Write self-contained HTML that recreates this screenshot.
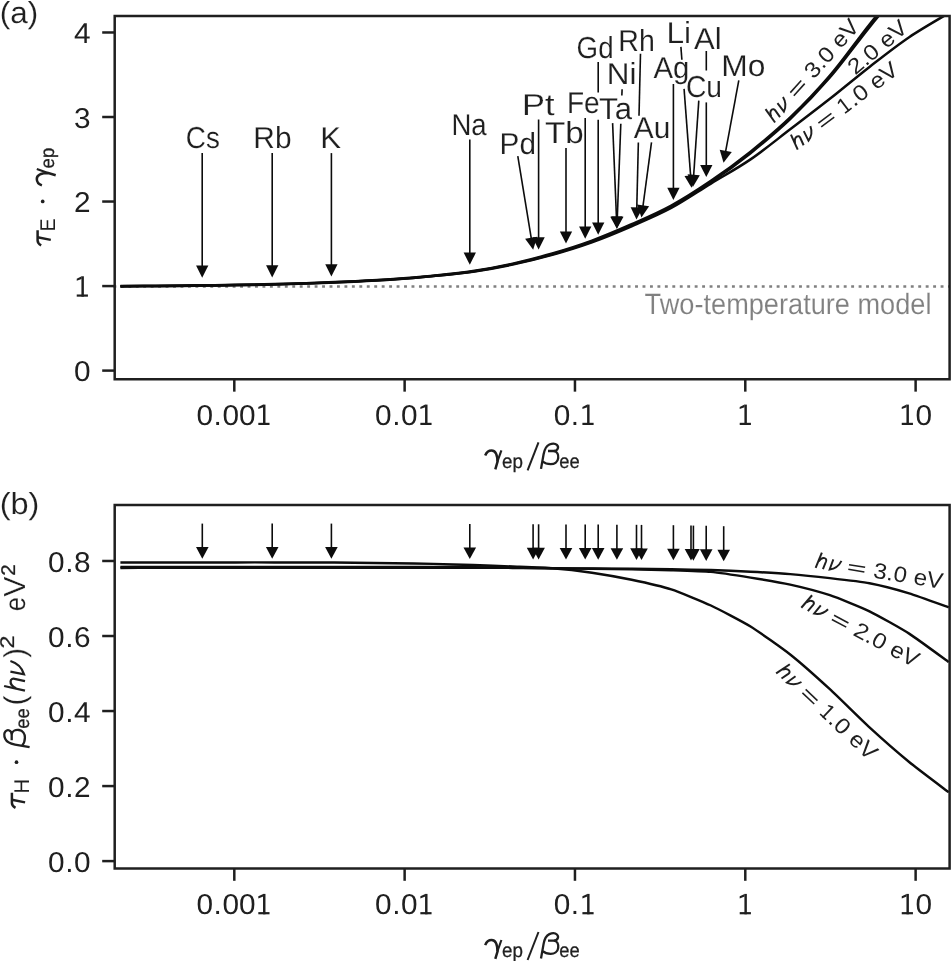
<!DOCTYPE html>
<html><head><meta charset="utf-8"><title>figure</title>
<style>html,body{margin:0;padding:0;background:#fff;overflow:hidden;}svg{display:block;font-family:"Liberation Sans",sans-serif;will-change:transform;opacity:0.999;}text{text-rendering:geometricPrecision;}</style>
</head><body>
<svg width="951" height="961" viewBox="0 0 951 961">
<rect width="951" height="961" fill="#fff"/>
<defs><clipPath id="ca"><rect x="114.7" y="16.0" width="834.9" height="363.25"/></clipPath><clipPath id="cb"><rect x="114.7" y="505.0" width="834.9" height="363.5"/></clipPath></defs>
<line x1="113.43" y1="286.45" x2="949.6" y2="286.45" stroke="#808080" stroke-width="2.5" stroke-dasharray="2.9 4.552"/>
<path d="M120.40,286.50 C126.30,286.46 143.29,286.35 155.80,286.24 C168.31,286.13 182.23,285.99 195.45,285.84 C208.67,285.68 221.88,285.55 235.10,285.33 C248.32,285.11 261.53,284.86 274.75,284.53 C287.97,284.19 301.18,283.79 314.40,283.32 C327.62,282.85 340.83,282.35 354.05,281.71 C367.27,281.08 380.48,280.44 393.70,279.51 C406.92,278.57 420.13,277.40 433.35,276.10 C446.57,274.80 459.78,273.63 473.00,271.71 C486.22,269.79 499.43,267.40 512.65,264.59 C525.87,261.79 539.08,258.58 552.30,254.88 C565.52,251.17 578.73,247.12 591.95,242.36 C605.17,237.61 618.38,232.06 631.60,226.34 C644.82,220.62 658.03,215.14 671.25,208.02 C684.47,200.89 697.68,191.70 710.90,183.60 C724.12,175.50 737.33,168.45 750.55,159.40 C763.77,150.35 776.98,139.40 790.20,129.30 C803.42,119.20 816.63,109.20 829.85,98.80 C843.07,88.40 856.28,77.17 869.50,66.90 C882.72,56.63 895.93,46.17 909.15,37.20 C922.37,28.23 942.19,17.12 948.80,13.10" fill="none" stroke="#0c0c0c" stroke-width="2.5" stroke-linejoin="round" clip-path="url(#ca)"/>
<path d="M120.40,286.20 C126.30,286.17 143.29,286.10 155.80,286.00 C168.31,285.90 182.23,285.75 195.45,285.60 C208.67,285.45 221.88,285.32 235.10,285.10 C248.32,284.88 261.53,284.63 274.75,284.30 C287.97,283.97 301.18,283.57 314.40,283.10 C327.62,282.63 340.83,282.13 354.05,281.50 C367.27,280.87 380.48,280.23 393.70,279.30 C406.92,278.37 420.13,277.22 433.35,275.90 C446.57,274.58 459.78,273.37 473.00,271.40 C486.22,269.43 499.43,266.97 512.65,264.10 C525.87,261.23 539.08,257.97 552.30,254.20 C565.52,250.43 578.73,246.32 591.95,241.50 C605.17,236.68 618.38,231.08 631.60,225.30 C644.82,219.52 658.03,213.98 671.25,206.80 C684.47,199.62 697.68,191.14 710.90,182.20 C724.12,173.26 737.33,163.67 750.55,153.15 C763.77,142.63 776.98,131.70 790.20,119.10 C803.42,106.50 816.63,92.88 829.85,77.55 C843.07,62.22 856.28,43.48 869.50,27.10 C882.72,10.73 902.54,-12.73 909.15,-20.70" fill="none" stroke="#0c0c0c" stroke-width="2.5" stroke-linejoin="round" clip-path="url(#ca)"/>
<path d="M120.40,285.90 C126.30,285.88 143.29,285.85 155.80,285.76 C168.31,285.67 182.23,285.51 195.45,285.36 C208.67,285.22 221.88,285.08 235.10,284.87 C248.32,284.65 261.53,284.41 274.75,284.07 C287.97,283.74 301.18,283.35 314.40,282.88 C327.62,282.42 340.83,281.92 354.05,281.29 C367.27,280.65 380.48,280.02 393.70,279.09 C406.92,278.16 420.13,277.03 433.35,275.70 C446.57,274.36 459.78,273.11 473.00,271.09 C486.22,269.08 499.43,266.54 512.65,263.61 C525.87,260.68 539.08,257.35 552.30,253.52 C565.52,249.69 578.73,245.51 591.95,240.64 C605.17,235.76 618.38,230.10 631.60,224.26 C644.82,218.42 658.03,212.81 671.25,205.58 C684.47,198.35 697.68,189.86 710.90,180.87 C724.12,171.88 737.33,162.21 750.55,151.65 C763.77,141.09 776.98,130.17 790.20,117.50 C803.42,104.83 816.63,91.15 829.85,75.65 C843.07,60.15 856.28,41.16 869.50,24.50 C882.72,7.84 902.54,-16.17 909.15,-24.30" fill="none" stroke="#0c0c0c" stroke-width="2.5" stroke-linejoin="round" clip-path="url(#ca)"/>
<line x1="202.20" y1="153.10" x2="202.20" y2="270.48" stroke="#0c0c0c" stroke-width="1.6"/>
<polygon points="202.20,277.80 196.05,265.60 208.35,265.60" fill="#0c0c0c"/>
<line x1="272.20" y1="153.10" x2="272.20" y2="270.08" stroke="#0c0c0c" stroke-width="1.6"/>
<polygon points="272.20,277.40 266.05,265.20 278.35,265.20" fill="#0c0c0c"/>
<line x1="331.40" y1="153.10" x2="331.40" y2="269.18" stroke="#0c0c0c" stroke-width="1.6"/>
<polygon points="331.40,276.50 325.25,264.30 337.55,264.30" fill="#0c0c0c"/>
<line x1="469.80" y1="139.50" x2="469.80" y2="257.48" stroke="#0c0c0c" stroke-width="1.6"/>
<polygon points="469.80,264.80 463.65,252.60 475.95,252.60" fill="#0c0c0c"/>
<line x1="517.80" y1="156.10" x2="531.98" y2="242.57" stroke="#0c0c0c" stroke-width="1.6"/>
<polygon points="533.16,249.79 525.12,238.75 537.26,236.76" fill="#0c0c0c"/>
<line x1="538.60" y1="119.50" x2="538.60" y2="242.18" stroke="#0c0c0c" stroke-width="1.6"/>
<polygon points="538.60,249.50 532.45,237.30 544.75,237.30" fill="#0c0c0c"/>
<line x1="566.00" y1="147.90" x2="566.00" y2="236.28" stroke="#0c0c0c" stroke-width="1.6"/>
<polygon points="566.00,243.60 559.85,231.40 572.15,231.40" fill="#0c0c0c"/>
<line x1="585.20" y1="117.90" x2="585.20" y2="231.38" stroke="#0c0c0c" stroke-width="1.6"/>
<polygon points="585.20,238.70 579.05,226.50 591.35,226.50" fill="#0c0c0c"/>
<line x1="598.20" y1="62.10" x2="598.20" y2="92.50" stroke="#0c0c0c" stroke-width="1.6"/>
<line x1="598.20" y1="119.80" x2="598.20" y2="227.38" stroke="#0c0c0c" stroke-width="1.6"/>
<polygon points="598.20,234.70 592.05,222.50 604.35,222.50" fill="#0c0c0c"/>
<line x1="622.10" y1="89.20" x2="621.86" y2="95.50" stroke="#0c0c0c" stroke-width="1.6"/>
<line x1="620.81" y1="123.80" x2="617.16" y2="221.38" stroke="#0c0c0c" stroke-width="1.6"/>
<polygon points="616.89,228.70 611.20,216.28 623.49,216.74" fill="#0c0c0c"/>
<line x1="612.60" y1="123.10" x2="616.62" y2="221.39" stroke="#0c0c0c" stroke-width="1.6"/>
<polygon points="616.92,228.70 610.27,216.76 622.56,216.26" fill="#0c0c0c"/>
<line x1="640.50" y1="53.80" x2="639.00" y2="115.80" stroke="#0c0c0c" stroke-width="1.6"/>
<line x1="638.36" y1="142.40" x2="636.67" y2="212.28" stroke="#0c0c0c" stroke-width="1.6"/>
<polygon points="636.49,219.60 630.64,207.25 642.93,207.55" fill="#0c0c0c"/>
<line x1="651.50" y1="142.40" x2="642.42" y2="210.24" stroke="#0c0c0c" stroke-width="1.6"/>
<polygon points="641.45,217.50 636.97,204.59 649.16,206.22" fill="#0c0c0c"/>
<line x1="673.40" y1="84.00" x2="673.40" y2="192.68" stroke="#0c0c0c" stroke-width="1.6"/>
<polygon points="673.40,200.00 667.25,187.80 679.55,187.80" fill="#0c0c0c"/>
<line x1="680.90" y1="46.90" x2="681.87" y2="59.70" stroke="#0c0c0c" stroke-width="1.6"/>
<line x1="684.07" y1="88.90" x2="690.98" y2="180.40" stroke="#0c0c0c" stroke-width="1.6"/>
<polygon points="691.53,187.70 684.48,176.00 696.74,175.07" fill="#0c0c0c"/>
<line x1="698.80" y1="100.60" x2="693.37" y2="179.60" stroke="#0c0c0c" stroke-width="1.6"/>
<polygon points="692.87,186.90 687.57,174.31 699.84,175.15" fill="#0c0c0c"/>
<line x1="706.30" y1="51.00" x2="706.30" y2="70.50" stroke="#0c0c0c" stroke-width="1.6"/>
<line x1="706.30" y1="102.40" x2="706.30" y2="169.78" stroke="#0c0c0c" stroke-width="1.6"/>
<polygon points="706.30,177.10 700.15,164.90 712.45,164.90" fill="#0c0c0c"/>
<line x1="738.80" y1="80.30" x2="724.86" y2="155.60" stroke="#0c0c0c" stroke-width="1.6"/>
<polygon points="723.53,162.79 719.70,149.68 731.80,151.92" fill="#0c0c0c"/>
<text transform="translate(185.81,148.00) scale(0.9180,1)" font-family='"Liberation Sans", sans-serif' font-size="30.3" fill="#1f1f1f" stroke="#fff" stroke-width="0.15">Cs</text>
<text transform="translate(253.35,148.00) scale(0.9858,1)" font-family='"Liberation Sans", sans-serif' font-size="30.3" fill="#1f1f1f" stroke="#fff" stroke-width="0.15">Rb</text>
<text transform="translate(320.34,147.80) scale(1.0292,1)" font-family='"Liberation Sans", sans-serif' font-size="30.3" fill="#1f1f1f" stroke="#fff" stroke-width="0.15">K</text>
<text transform="translate(451.44,135.10) scale(0.9099,1)" font-family='"Liberation Sans", sans-serif' font-size="30.3" fill="#1f1f1f" stroke="#fff" stroke-width="0.15">Na</text>
<text transform="translate(499.56,153.90) scale(0.9806,1)" font-family='"Liberation Sans", sans-serif' font-size="30.3" fill="#1f1f1f" stroke="#fff" stroke-width="0.15">Pd</text>
<text transform="translate(521.98,115.30) scale(1.1335,1)" font-family='"Liberation Sans", sans-serif' font-size="30.3" fill="#1f1f1f" stroke="#fff" stroke-width="0.15">Pt</text>
<text transform="translate(545.07,143.10) scale(1.0941,1)" font-family='"Liberation Sans", sans-serif' font-size="30.3" fill="#1f1f1f" stroke="#fff" stroke-width="0.15">Tb</text>
<text transform="translate(566.90,113.30) scale(0.9257,1)" font-family='"Liberation Sans", sans-serif' font-size="30.3" fill="#1f1f1f" stroke="#fff" stroke-width="0.15">Fe</text>
<text transform="translate(599.12,119.30) scale(1.0268,1)" font-family='"Liberation Sans", sans-serif' font-size="30.3" fill="#1f1f1f" stroke="#fff" stroke-width="0.15">Ta</text>
<text transform="translate(576.61,57.70) scale(0.9144,1)" font-family='"Liberation Sans", sans-serif' font-size="30.3" fill="#1f1f1f" stroke="#fff" stroke-width="0.15">Gd</text>
<text transform="translate(618.36,50.60) scale(0.9417,1)" font-family='"Liberation Sans", sans-serif' font-size="30.3" fill="#1f1f1f" stroke="#fff" stroke-width="0.15">Rh</text>
<text transform="translate(666.51,43.20) scale(1.0441,1)" font-family='"Liberation Sans", sans-serif' font-size="30.3" fill="#1f1f1f" stroke="#fff" stroke-width="0.15">Li</text>
<text transform="translate(606.72,83.70) scale(1.0378,1)" font-family='"Liberation Sans", sans-serif' font-size="30.3" fill="#1f1f1f" stroke="#fff" stroke-width="0.15">Ni</text>
<text transform="translate(653.54,77.80) scale(0.9670,1)" font-family='"Liberation Sans", sans-serif' font-size="30.3" fill="#1f1f1f" stroke="#fff" stroke-width="0.15">Ag</text>
<text transform="translate(693.94,49.10) scale(1.0251,1)" font-family='"Liberation Sans", sans-serif' font-size="30.3" fill="#1f1f1f" stroke="#fff" stroke-width="0.15">Al</text>
<text transform="translate(721.30,75.90) scale(1.0480,1)" font-family='"Liberation Sans", sans-serif' font-size="30.3" fill="#1f1f1f" stroke="#fff" stroke-width="0.15">Mo</text>
<text transform="translate(685.99,96.70) scale(0.9316,1)" font-family='"Liberation Sans", sans-serif' font-size="30.3" fill="#1f1f1f" stroke="#fff" stroke-width="0.15">Cu</text>
<text transform="translate(633.74,138.20) scale(0.9858,1)" font-family='"Liberation Sans", sans-serif' font-size="30.3" fill="#1f1f1f" stroke="#fff" stroke-width="0.15">Au</text>
<text transform="translate(644.60,313.80) scale(0.9209,1)" font-family='"Liberation Sans", sans-serif' font-size="29.5" fill="#808080" stroke="#fff" stroke-width="0.15">Two-temperature model</text>
<g transform="translate(774.30,123.40) rotate(-48)">
<g transform="translate(0.00,0.00) scale(0.7700)" fill="none" stroke="#1f1f1f" stroke-linejoin="miter" stroke-miterlimit="3">
<path d="M1.5,0.0 L6.2,-20.9" stroke-width="2.58"/>
<path d="M4.0,-9.0 C5.8,-12.8 8.6,-14.6 10.8,-14.4 C13.0,-14.2 13.8,-12.5 13.4,-10.4 L11.1,0.0" stroke-width="2.58"/>
</g>
<g transform="translate(13.60,0.00) scale(0.7700)" fill="none" stroke="#1f1f1f" stroke-linejoin="miter" stroke-miterlimit="3">
<path d="M4.7,-14.6 L2.1,-1.0 C7.6,-2.7 13.0,-6.6 15.4,-14.6" stroke-width="2.52"/>
</g>
<line x1="33.60" y1="-8.70" x2="49.90" y2="-8.70" stroke="#1f1f1f" stroke-width="1.55"/>
<line x1="33.60" y1="-4.00" x2="49.90" y2="-4.00" stroke="#1f1f1f" stroke-width="1.55"/>
<text transform="translate(58.88,0.00) scale(1.0966,1)" font-family='"Liberation Sans", sans-serif' font-size="22.0" fill="#1f1f1f">3.0</text>
<text transform="translate(99.49,0.00) scale(1.0686,1)" font-family='"Liberation Sans", sans-serif' font-size="22.5" fill="#1f1f1f">eV</text>
</g>
<g transform="translate(855.60,75.20) rotate(-40)">
<text transform="translate(-0.42,0.00) scale(1.1067,1)" font-family='"Liberation Sans", sans-serif' font-size="22.0" fill="#1f1f1f">2.0</text>
<text transform="translate(40.49,0.00) scale(1.0686,1)" font-family='"Liberation Sans", sans-serif' font-size="22.5" fill="#1f1f1f">eV</text>
</g>
<g transform="translate(796.80,150.40) rotate(-37)">
<g transform="translate(0.00,0.00) scale(0.7700)" fill="none" stroke="#1f1f1f" stroke-linejoin="miter" stroke-miterlimit="3">
<path d="M1.5,0.0 L6.2,-20.9" stroke-width="2.58"/>
<path d="M4.0,-9.0 C5.8,-12.8 8.6,-14.6 10.8,-14.4 C13.0,-14.2 13.8,-12.5 13.4,-10.4 L11.1,0.0" stroke-width="2.58"/>
</g>
<g transform="translate(13.60,0.00) scale(0.7700)" fill="none" stroke="#1f1f1f" stroke-linejoin="miter" stroke-miterlimit="3">
<path d="M4.7,-14.6 L2.1,-1.0 C7.6,-2.7 13.0,-6.6 15.4,-14.6" stroke-width="2.52"/>
</g>
<line x1="33.60" y1="-8.70" x2="49.90" y2="-8.70" stroke="#1f1f1f" stroke-width="1.55"/>
<line x1="33.60" y1="-4.00" x2="49.90" y2="-4.00" stroke="#1f1f1f" stroke-width="1.55"/>
<g transform="translate(61.00,0.00) scale(0.7350)" fill="#1f1f1f"><rect x="0" y="-2.2" width="11.2" height="2.2"/><rect x="4.7" y="-20.4" width="2.45" height="20.4"/><polygon points="4.9,-20.4 4.9,-17.7 0,-15.9 0,-18.0"/></g>
<text transform="translate(71.74,0.00) scale(1.1283,1)" font-family='"Liberation Sans", sans-serif' font-size="22.0" fill="#1f1f1f">.0</text>
<text transform="translate(99.49,0.00) scale(1.0686,1)" font-family='"Liberation Sans", sans-serif' font-size="22.5" fill="#1f1f1f">eV</text>
</g>
<rect x="114.7" y="16.0" width="834.9" height="363.25" fill="none" stroke="#1f1f1f" stroke-width="2.5"/>
<line x1="102.20" y1="370.60" x2="114.70" y2="370.60" stroke="#1f1f1f" stroke-width="2.5"/>
<text transform="translate(74.03,381.20) scale(1.0417,1)" font-size="28.6" fill="#1f1f1f">0</text>
<line x1="102.20" y1="286.07" x2="114.70" y2="286.07" stroke="#1f1f1f" stroke-width="2.5"/>
<g transform="translate(76.73,296.67) scale(1.0000)" fill="#1f1f1f"><rect x="0" y="-2.2" width="11.2" height="2.2"/><rect x="4.7" y="-20.4" width="2.45" height="20.4"/><polygon points="4.9,-20.4 4.9,-17.7 0,-15.9 0,-18.0"/></g>
<line x1="102.20" y1="201.54" x2="114.70" y2="201.54" stroke="#1f1f1f" stroke-width="2.5"/>
<text transform="translate(74.03,212.14) scale(1.0417,1)" font-size="28.6" fill="#1f1f1f">2</text>
<line x1="102.20" y1="117.01" x2="114.70" y2="117.01" stroke="#1f1f1f" stroke-width="2.5"/>
<text transform="translate(74.03,127.61) scale(1.0417,1)" font-size="28.6" fill="#1f1f1f">3</text>
<line x1="102.20" y1="32.48" x2="114.70" y2="32.48" stroke="#1f1f1f" stroke-width="2.5"/>
<text transform="translate(74.03,43.08) scale(1.0417,1)" font-size="28.6" fill="#1f1f1f">4</text>
<line x1="234.30" y1="379.25" x2="234.30" y2="391.65" stroke="#1f1f1f" stroke-width="2.5"/>
<text transform="translate(196.41,425.00) scale(1.0417,1)" font-size="28.6" fill="#1f1f1f">0</text>
<text transform="translate(213.59,425.00) scale(1.0417,1)" font-size="28.6" fill="#1f1f1f">.</text>
<text transform="translate(222.48,425.00) scale(1.0417,1)" font-size="28.6" fill="#1f1f1f">0</text>
<text transform="translate(239.05,425.00) scale(1.0417,1)" font-size="28.6" fill="#1f1f1f">0</text>
<g transform="translate(258.32,425.00) scale(1.0000)" fill="#1f1f1f"><rect x="0" y="-2.2" width="11.2" height="2.2"/><rect x="4.7" y="-20.4" width="2.45" height="20.4"/><polygon points="4.9,-20.4 4.9,-17.7 0,-15.9 0,-18.0"/></g>
<line x1="404.63" y1="379.25" x2="404.63" y2="391.65" stroke="#1f1f1f" stroke-width="2.5"/>
<text transform="translate(375.02,425.00) scale(1.0417,1)" font-size="28.6" fill="#1f1f1f">0</text>
<text transform="translate(392.21,425.00) scale(1.0417,1)" font-size="28.6" fill="#1f1f1f">.</text>
<text transform="translate(401.09,425.00) scale(1.0417,1)" font-size="28.6" fill="#1f1f1f">0</text>
<g transform="translate(420.36,425.00) scale(1.0000)" fill="#1f1f1f"><rect x="0" y="-2.2" width="11.2" height="2.2"/><rect x="4.7" y="-20.4" width="2.45" height="20.4"/><polygon points="4.9,-20.4 4.9,-17.7 0,-15.9 0,-18.0"/></g>
<line x1="574.96" y1="379.25" x2="574.96" y2="391.65" stroke="#1f1f1f" stroke-width="2.5"/>
<text transform="translate(553.64,425.00) scale(1.0417,1)" font-size="28.6" fill="#1f1f1f">0</text>
<text transform="translate(570.82,425.00) scale(1.0417,1)" font-size="28.6" fill="#1f1f1f">.</text>
<g transform="translate(582.41,425.00) scale(1.0000)" fill="#1f1f1f"><rect x="0" y="-2.2" width="11.2" height="2.2"/><rect x="4.7" y="-20.4" width="2.45" height="20.4"/><polygon points="4.9,-20.4 4.9,-17.7 0,-15.9 0,-18.0"/></g>
<line x1="745.29" y1="379.25" x2="745.29" y2="391.65" stroke="#1f1f1f" stroke-width="2.5"/>
<g transform="translate(739.71,425.00) scale(1.0000)" fill="#1f1f1f"><rect x="0" y="-2.2" width="11.2" height="2.2"/><rect x="4.7" y="-20.4" width="2.45" height="20.4"/><polygon points="4.9,-20.4 4.9,-17.7 0,-15.9 0,-18.0"/></g>
<line x1="915.62" y1="379.25" x2="915.62" y2="391.65" stroke="#1f1f1f" stroke-width="2.5"/>
<g transform="translate(901.75,425.00) scale(1.0000)" fill="#1f1f1f"><rect x="0" y="-2.2" width="11.2" height="2.2"/><rect x="4.7" y="-20.4" width="2.45" height="20.4"/><polygon points="4.9,-20.4 4.9,-17.7 0,-15.9 0,-18.0"/></g>
<text transform="translate(915.62,425.00) scale(1.0417,1)" font-size="28.6" fill="#1f1f1f">0</text>
<path d="M120.40,562.40 C123.64,562.40 148.92,562.40 155.80,562.40 C162.68,562.40 188.18,562.40 195.45,562.40 C202.72,562.40 227.83,562.40 235.10,562.40 C242.37,562.40 267.48,562.39 274.75,562.40 C282.02,562.41 307.13,562.47 314.40,562.50 C321.67,562.53 346.78,562.64 354.05,562.70 C361.32,562.76 386.43,563.09 393.70,563.20 C400.97,563.31 426.08,563.74 433.35,563.90 C440.62,564.06 465.73,564.76 473.00,565.00 C480.27,565.24 505.38,566.21 512.65,566.50 C519.92,566.79 545.03,567.63 552.30,568.20 C559.57,568.77 584.68,571.64 591.95,572.70 C599.22,573.76 624.33,578.27 631.60,579.80 C638.87,581.33 663.98,587.04 671.25,589.40 C678.52,591.76 703.63,602.10 710.90,605.50 C718.17,608.90 743.28,622.01 750.55,626.50 C757.82,630.99 782.93,648.75 790.20,654.50 C797.47,660.25 822.58,682.52 829.85,689.20 C837.12,695.88 862.23,720.73 869.50,727.40 C876.77,734.07 901.88,756.05 909.15,762.00 C916.42,767.95 945.17,789.52 948.80,792.30" fill="none" stroke="#0c0c0c" stroke-width="2.45" stroke-linejoin="round" clip-path="url(#cb)"/>
<path d="M120.40,567.90 C123.64,567.89 148.92,567.81 155.80,567.80 C162.68,567.79 188.18,567.80 195.45,567.80 C202.72,567.80 227.83,567.80 235.10,567.80 C242.37,567.80 267.48,567.80 274.75,567.80 C282.02,567.80 307.13,567.80 314.40,567.80 C321.67,567.80 346.78,567.80 354.05,567.80 C361.32,567.80 386.43,567.80 393.70,567.80 C400.97,567.80 426.08,567.80 433.35,567.80 C440.62,567.80 465.73,567.79 473.00,567.80 C480.27,567.81 505.38,567.85 512.65,567.90 C519.92,567.95 545.03,568.23 552.30,568.30 C559.57,568.37 584.68,568.61 591.95,568.70 C599.22,568.79 624.33,569.16 631.60,569.30 C638.87,569.44 663.98,569.96 671.25,570.20 C678.52,570.44 703.63,571.22 710.90,571.90 C718.17,572.58 743.28,576.44 750.55,577.60 C757.82,578.76 782.93,582.99 790.20,584.60 C797.47,586.21 822.58,592.75 829.85,595.20 C837.12,597.65 862.23,607.78 869.50,611.30 C876.77,614.82 901.88,628.94 909.15,633.60 C916.42,638.26 945.17,659.49 948.80,662.10" fill="none" stroke="#0c0c0c" stroke-width="2.45" stroke-linejoin="round" clip-path="url(#cb)"/>
<path d="M120.40,566.90 C123.64,566.90 148.92,566.90 155.80,566.90 C162.68,566.90 188.18,566.90 195.45,566.90 C202.72,566.90 227.83,566.90 235.10,566.90 C242.37,566.90 267.48,566.90 274.75,566.90 C282.02,566.90 307.13,566.90 314.40,566.90 C321.67,566.90 346.78,566.90 354.05,566.90 C361.32,566.90 386.43,566.89 393.70,566.90 C400.97,566.91 426.08,566.97 433.35,567.00 C440.62,567.03 465.73,567.15 473.00,567.20 C480.27,567.25 505.38,567.51 512.65,567.60 C519.92,567.69 545.03,568.12 552.30,568.20 C559.57,568.28 584.68,568.45 591.95,568.50 C599.22,568.55 624.33,568.73 631.60,568.80 C638.87,568.87 663.98,569.19 671.25,569.30 C678.52,569.41 703.63,569.78 710.90,570.00 C718.17,570.22 743.28,571.32 750.55,571.70 C757.82,572.08 782.93,573.51 790.20,574.10 C797.47,574.69 822.58,577.27 829.85,578.10 C837.12,578.93 862.23,581.81 869.50,583.20 C876.77,584.59 901.88,591.09 909.15,593.30 C916.42,595.51 945.17,606.02 948.80,607.30" fill="none" stroke="#0c0c0c" stroke-width="2.45" stroke-linejoin="round" clip-path="url(#cb)"/>
<line x1="202.30" y1="523.60" x2="202.30" y2="551.74" stroke="#0c0c0c" stroke-width="1.6"/>
<polygon points="202.30,558.70 196.00,547.10 208.60,547.10" fill="#0c0c0c"/>
<line x1="272.20" y1="523.60" x2="272.20" y2="551.74" stroke="#0c0c0c" stroke-width="1.6"/>
<polygon points="272.20,558.70 265.90,547.10 278.50,547.10" fill="#0c0c0c"/>
<line x1="331.40" y1="523.60" x2="331.40" y2="551.74" stroke="#0c0c0c" stroke-width="1.6"/>
<polygon points="331.40,558.70 325.10,547.10 337.70,547.10" fill="#0c0c0c"/>
<line x1="469.80" y1="523.90" x2="469.80" y2="552.04" stroke="#0c0c0c" stroke-width="1.6"/>
<polygon points="469.80,559.00 463.50,547.40 476.10,547.40" fill="#0c0c0c"/>
<line x1="533.10" y1="524.30" x2="533.10" y2="552.44" stroke="#0c0c0c" stroke-width="1.6"/>
<polygon points="533.10,559.40 526.80,547.80 539.40,547.80" fill="#0c0c0c"/>
<line x1="538.60" y1="524.30" x2="538.60" y2="552.44" stroke="#0c0c0c" stroke-width="1.6"/>
<polygon points="538.60,559.40 532.30,547.80 544.90,547.80" fill="#0c0c0c"/>
<line x1="566.00" y1="524.40" x2="566.00" y2="552.54" stroke="#0c0c0c" stroke-width="1.6"/>
<polygon points="566.00,559.50 559.70,547.90 572.30,547.90" fill="#0c0c0c"/>
<line x1="585.20" y1="524.50" x2="585.20" y2="552.64" stroke="#0c0c0c" stroke-width="1.6"/>
<polygon points="585.20,559.60 578.90,548.00 591.50,548.00" fill="#0c0c0c"/>
<line x1="598.20" y1="524.60" x2="598.20" y2="552.74" stroke="#0c0c0c" stroke-width="1.6"/>
<polygon points="598.20,559.70 591.90,548.10 604.50,548.10" fill="#0c0c0c"/>
<line x1="616.90" y1="524.70" x2="616.90" y2="552.84" stroke="#0c0c0c" stroke-width="1.6"/>
<polygon points="616.90,559.80 610.60,548.20 623.20,548.20" fill="#0c0c0c"/>
<line x1="636.50" y1="524.80" x2="636.50" y2="552.94" stroke="#0c0c0c" stroke-width="1.6"/>
<polygon points="636.50,559.90 630.20,548.30 642.80,548.30" fill="#0c0c0c"/>
<line x1="641.50" y1="524.90" x2="641.50" y2="553.04" stroke="#0c0c0c" stroke-width="1.6"/>
<polygon points="641.50,560.00 635.20,548.40 647.80,548.40" fill="#0c0c0c"/>
<line x1="673.40" y1="525.20" x2="673.40" y2="553.34" stroke="#0c0c0c" stroke-width="1.6"/>
<polygon points="673.40,560.30 667.10,548.70 679.70,548.70" fill="#0c0c0c"/>
<line x1="691.00" y1="525.50" x2="691.00" y2="553.64" stroke="#0c0c0c" stroke-width="1.6"/>
<polygon points="691.00,560.60 684.70,549.00 697.30,549.00" fill="#0c0c0c"/>
<line x1="693.40" y1="525.60" x2="693.40" y2="553.74" stroke="#0c0c0c" stroke-width="1.6"/>
<polygon points="693.40,560.70 687.10,549.10 699.70,549.10" fill="#0c0c0c"/>
<line x1="706.20" y1="525.80" x2="706.20" y2="553.94" stroke="#0c0c0c" stroke-width="1.6"/>
<polygon points="706.20,560.90 699.90,549.30 712.50,549.30" fill="#0c0c0c"/>
<line x1="723.70" y1="526.20" x2="723.70" y2="554.34" stroke="#0c0c0c" stroke-width="1.6"/>
<polygon points="723.70,561.30 717.40,549.70 730.00,549.70" fill="#0c0c0c"/>
<g transform="translate(814.50,567.70) rotate(9.5)">
<g transform="translate(0.00,0.00) scale(0.7700)" fill="none" stroke="#1f1f1f" stroke-linejoin="miter" stroke-miterlimit="3">
<path d="M1.5,0.0 L6.2,-20.9" stroke-width="2.58"/>
<path d="M4.0,-9.0 C5.8,-12.8 8.6,-14.6 10.8,-14.4 C13.0,-14.2 13.8,-12.5 13.4,-10.4 L11.1,0.0" stroke-width="2.58"/>
</g>
<g transform="translate(13.60,0.00) scale(0.7700)" fill="none" stroke="#1f1f1f" stroke-linejoin="miter" stroke-miterlimit="3">
<path d="M4.7,-14.6 L2.1,-1.0 C7.6,-2.7 13.0,-6.6 15.4,-14.6" stroke-width="2.52"/>
</g>
<line x1="33.60" y1="-8.70" x2="49.90" y2="-8.70" stroke="#1f1f1f" stroke-width="1.55"/>
<line x1="33.60" y1="-4.00" x2="49.90" y2="-4.00" stroke="#1f1f1f" stroke-width="1.55"/>
<text transform="translate(58.88,0.00) scale(1.0966,1)" font-family='"Liberation Sans", sans-serif' font-size="22.0" fill="#1f1f1f">3.0</text>
<text transform="translate(99.49,0.00) scale(1.0686,1)" font-family='"Liberation Sans", sans-serif' font-size="22.5" fill="#1f1f1f">eV</text>
</g>
<g transform="translate(800.30,607.20) rotate(28.0)">
<g transform="translate(0.00,0.00) scale(0.7700)" fill="none" stroke="#1f1f1f" stroke-linejoin="miter" stroke-miterlimit="3">
<path d="M1.5,0.0 L6.2,-20.9" stroke-width="2.58"/>
<path d="M4.0,-9.0 C5.8,-12.8 8.6,-14.6 10.8,-14.4 C13.0,-14.2 13.8,-12.5 13.4,-10.4 L11.1,0.0" stroke-width="2.58"/>
</g>
<g transform="translate(13.60,0.00) scale(0.7700)" fill="none" stroke="#1f1f1f" stroke-linejoin="miter" stroke-miterlimit="3">
<path d="M4.7,-14.6 L2.1,-1.0 C7.6,-2.7 13.0,-6.6 15.4,-14.6" stroke-width="2.52"/>
</g>
<line x1="33.60" y1="-8.70" x2="49.90" y2="-8.70" stroke="#1f1f1f" stroke-width="1.55"/>
<line x1="33.60" y1="-4.00" x2="49.90" y2="-4.00" stroke="#1f1f1f" stroke-width="1.55"/>
<text transform="translate(58.58,0.00) scale(1.1067,1)" font-family='"Liberation Sans", sans-serif' font-size="22.0" fill="#1f1f1f">2.0</text>
<text transform="translate(99.49,0.00) scale(1.0686,1)" font-family='"Liberation Sans", sans-serif' font-size="22.5" fill="#1f1f1f">eV</text>
</g>
<g transform="translate(775.30,672.60) rotate(43.5)">
<g transform="translate(0.00,0.00) scale(0.7700)" fill="none" stroke="#1f1f1f" stroke-linejoin="miter" stroke-miterlimit="3">
<path d="M1.5,0.0 L6.2,-20.9" stroke-width="2.58"/>
<path d="M4.0,-9.0 C5.8,-12.8 8.6,-14.6 10.8,-14.4 C13.0,-14.2 13.8,-12.5 13.4,-10.4 L11.1,0.0" stroke-width="2.58"/>
</g>
<g transform="translate(13.60,0.00) scale(0.7700)" fill="none" stroke="#1f1f1f" stroke-linejoin="miter" stroke-miterlimit="3">
<path d="M4.7,-14.6 L2.1,-1.0 C7.6,-2.7 13.0,-6.6 15.4,-14.6" stroke-width="2.52"/>
</g>
<line x1="33.60" y1="-8.70" x2="49.90" y2="-8.70" stroke="#1f1f1f" stroke-width="1.55"/>
<line x1="33.60" y1="-4.00" x2="49.90" y2="-4.00" stroke="#1f1f1f" stroke-width="1.55"/>
<g transform="translate(61.00,0.00) scale(0.7350)" fill="#1f1f1f"><rect x="0" y="-2.2" width="11.2" height="2.2"/><rect x="4.7" y="-20.4" width="2.45" height="20.4"/><polygon points="4.9,-20.4 4.9,-17.7 0,-15.9 0,-18.0"/></g>
<text transform="translate(71.74,0.00) scale(1.1283,1)" font-family='"Liberation Sans", sans-serif' font-size="22.0" fill="#1f1f1f">.0</text>
<text transform="translate(99.49,0.00) scale(1.0686,1)" font-family='"Liberation Sans", sans-serif' font-size="22.5" fill="#1f1f1f">eV</text>
</g>
<rect x="114.7" y="505.0" width="834.9" height="363.5" fill="none" stroke="#1f1f1f" stroke-width="2.5"/>
<line x1="102.20" y1="861.10" x2="114.70" y2="861.10" stroke="#1f1f1f" stroke-width="2.5"/>
<text transform="translate(47.96,871.70) scale(1.0417,1)" font-size="28.6" fill="#1f1f1f">0</text>
<text transform="translate(65.14,871.70) scale(1.0417,1)" font-size="28.6" fill="#1f1f1f">.</text>
<text transform="translate(74.03,871.70) scale(1.0417,1)" font-size="28.6" fill="#1f1f1f">0</text>
<line x1="102.20" y1="786.07" x2="114.70" y2="786.07" stroke="#1f1f1f" stroke-width="2.5"/>
<text transform="translate(47.96,796.67) scale(1.0417,1)" font-size="28.6" fill="#1f1f1f">0</text>
<text transform="translate(65.14,796.67) scale(1.0417,1)" font-size="28.6" fill="#1f1f1f">.</text>
<text transform="translate(74.03,796.67) scale(1.0417,1)" font-size="28.6" fill="#1f1f1f">2</text>
<line x1="102.20" y1="711.04" x2="114.70" y2="711.04" stroke="#1f1f1f" stroke-width="2.5"/>
<text transform="translate(47.96,721.64) scale(1.0417,1)" font-size="28.6" fill="#1f1f1f">0</text>
<text transform="translate(65.14,721.64) scale(1.0417,1)" font-size="28.6" fill="#1f1f1f">.</text>
<text transform="translate(74.03,721.64) scale(1.0417,1)" font-size="28.6" fill="#1f1f1f">4</text>
<line x1="102.20" y1="636.01" x2="114.70" y2="636.01" stroke="#1f1f1f" stroke-width="2.5"/>
<text transform="translate(47.96,646.61) scale(1.0417,1)" font-size="28.6" fill="#1f1f1f">0</text>
<text transform="translate(65.14,646.61) scale(1.0417,1)" font-size="28.6" fill="#1f1f1f">.</text>
<text transform="translate(74.03,646.61) scale(1.0417,1)" font-size="28.6" fill="#1f1f1f">6</text>
<line x1="102.20" y1="560.98" x2="114.70" y2="560.98" stroke="#1f1f1f" stroke-width="2.5"/>
<text transform="translate(47.96,571.58) scale(1.0417,1)" font-size="28.6" fill="#1f1f1f">0</text>
<text transform="translate(65.14,571.58) scale(1.0417,1)" font-size="28.6" fill="#1f1f1f">.</text>
<text transform="translate(74.03,571.58) scale(1.0417,1)" font-size="28.6" fill="#1f1f1f">8</text>
<line x1="234.30" y1="868.50" x2="234.30" y2="880.80" stroke="#1f1f1f" stroke-width="2.5"/>
<text transform="translate(196.41,914.30) scale(1.0417,1)" font-size="28.6" fill="#1f1f1f">0</text>
<text transform="translate(213.59,914.30) scale(1.0417,1)" font-size="28.6" fill="#1f1f1f">.</text>
<text transform="translate(222.48,914.30) scale(1.0417,1)" font-size="28.6" fill="#1f1f1f">0</text>
<text transform="translate(239.05,914.30) scale(1.0417,1)" font-size="28.6" fill="#1f1f1f">0</text>
<g transform="translate(258.32,914.30) scale(1.0000)" fill="#1f1f1f"><rect x="0" y="-2.2" width="11.2" height="2.2"/><rect x="4.7" y="-20.4" width="2.45" height="20.4"/><polygon points="4.9,-20.4 4.9,-17.7 0,-15.9 0,-18.0"/></g>
<line x1="404.63" y1="868.50" x2="404.63" y2="880.80" stroke="#1f1f1f" stroke-width="2.5"/>
<text transform="translate(375.02,914.30) scale(1.0417,1)" font-size="28.6" fill="#1f1f1f">0</text>
<text transform="translate(392.21,914.30) scale(1.0417,1)" font-size="28.6" fill="#1f1f1f">.</text>
<text transform="translate(401.09,914.30) scale(1.0417,1)" font-size="28.6" fill="#1f1f1f">0</text>
<g transform="translate(420.36,914.30) scale(1.0000)" fill="#1f1f1f"><rect x="0" y="-2.2" width="11.2" height="2.2"/><rect x="4.7" y="-20.4" width="2.45" height="20.4"/><polygon points="4.9,-20.4 4.9,-17.7 0,-15.9 0,-18.0"/></g>
<line x1="574.96" y1="868.50" x2="574.96" y2="880.80" stroke="#1f1f1f" stroke-width="2.5"/>
<text transform="translate(553.64,914.30) scale(1.0417,1)" font-size="28.6" fill="#1f1f1f">0</text>
<text transform="translate(570.82,914.30) scale(1.0417,1)" font-size="28.6" fill="#1f1f1f">.</text>
<g transform="translate(582.41,914.30) scale(1.0000)" fill="#1f1f1f"><rect x="0" y="-2.2" width="11.2" height="2.2"/><rect x="4.7" y="-20.4" width="2.45" height="20.4"/><polygon points="4.9,-20.4 4.9,-17.7 0,-15.9 0,-18.0"/></g>
<line x1="745.29" y1="868.50" x2="745.29" y2="880.80" stroke="#1f1f1f" stroke-width="2.5"/>
<g transform="translate(739.71,914.30) scale(1.0000)" fill="#1f1f1f"><rect x="0" y="-2.2" width="11.2" height="2.2"/><rect x="4.7" y="-20.4" width="2.45" height="20.4"/><polygon points="4.9,-20.4 4.9,-17.7 0,-15.9 0,-18.0"/></g>
<line x1="915.62" y1="868.50" x2="915.62" y2="880.80" stroke="#1f1f1f" stroke-width="2.5"/>
<g transform="translate(901.75,914.30) scale(1.0000)" fill="#1f1f1f"><rect x="0" y="-2.2" width="11.2" height="2.2"/><rect x="4.7" y="-20.4" width="2.45" height="20.4"/><polygon points="4.9,-20.4 4.9,-17.7 0,-15.9 0,-18.0"/></g>
<text transform="translate(915.62,914.30) scale(1.0417,1)" font-size="28.6" fill="#1f1f1f">0</text>
<text transform="translate(-0.25,22.50) scale(1.0370,1)" font-family='"Liberation Sans", sans-serif' font-size="30.3" fill="#1f1f1f" stroke="#fff" stroke-width="0.15">(a)</text>
<text transform="translate(-0.32,514.30) scale(1.0731,1)" font-family='"Liberation Sans", sans-serif' font-size="30.3" fill="#1f1f1f" stroke="#fff" stroke-width="0.15">(b)</text>
<g transform="translate(484.40,464.30) scale(1.0000)" fill="none" stroke="#1f1f1f" stroke-linejoin="miter" stroke-miterlimit="3">
<path d="M0.8,-8.8 C1.9,-11.8 4.2,-13.9 7.2,-13.9 C11.2,-13.9 13.0,-8.3 13.1,-2.4 L10.9,5.0" stroke-width="2.50"/>
<path d="M13.0,-2.6 L17.0,-13.9" stroke-width="2.10"/>
</g>
<text transform="translate(502.11,467.60) scale(0.9522,1)" font-family='"Liberation Sans", sans-serif' font-size="19.8" fill="#1f1f1f" stroke="#1f1f1f" stroke-width="0.28">ep</text>
<line x1="527.60" y1="470.40" x2="538.50" y2="442.40" stroke="#1f1f1f" stroke-width="2.0"/>
<g transform="translate(539.70,464.30) scale(1.0000)" fill="none" stroke="#1f1f1f" stroke-linejoin="miter" stroke-miterlimit="3">
<path d="M1.3,4.6 L3.9,-10.0 C4.7,-14.5 6.4,-18.3 9.7,-19.8 C12.5,-21.0 15.6,-20.9 17.2,-19.4 C19.4,-17.3 18.3,-13.6 14.2,-13.3 L8.3,-13.3" stroke-width="2.30"/>
<path d="M14.2,-13.3 C17.6,-12.8 18.9,-9.5 18.5,-6.1 C18.0,-2.0 14.5,-0.1 11.0,-0.1 C8.0,-0.1 5.0,-1.0 3.0,-2.8" stroke-width="2.30"/>
</g>
<text transform="translate(559.23,467.60) scale(0.9304,1)" font-family='"Liberation Sans", sans-serif' font-size="19.8" fill="#1f1f1f" stroke="#1f1f1f" stroke-width="0.28">ee</text>
<g transform="translate(484.40,953.90) scale(1.0000)" fill="none" stroke="#1f1f1f" stroke-linejoin="miter" stroke-miterlimit="3">
<path d="M0.8,-8.8 C1.9,-11.8 4.2,-13.9 7.2,-13.9 C11.2,-13.9 13.0,-8.3 13.1,-2.4 L10.9,5.0" stroke-width="2.50"/>
<path d="M13.0,-2.6 L17.0,-13.9" stroke-width="2.10"/>
</g>
<text transform="translate(502.11,957.20) scale(0.9522,1)" font-family='"Liberation Sans", sans-serif' font-size="19.8" fill="#1f1f1f" stroke="#1f1f1f" stroke-width="0.28">ep</text>
<line x1="527.60" y1="960.00" x2="538.50" y2="932.00" stroke="#1f1f1f" stroke-width="2.0"/>
<g transform="translate(539.70,953.90) scale(1.0000)" fill="none" stroke="#1f1f1f" stroke-linejoin="miter" stroke-miterlimit="3">
<path d="M1.3,4.6 L3.9,-10.0 C4.7,-14.5 6.4,-18.3 9.7,-19.8 C12.5,-21.0 15.6,-20.9 17.2,-19.4 C19.4,-17.3 18.3,-13.6 14.2,-13.3 L8.3,-13.3" stroke-width="2.30"/>
<path d="M14.2,-13.3 C17.6,-12.8 18.9,-9.5 18.5,-6.1 C18.0,-2.0 14.5,-0.1 11.0,-0.1 C8.0,-0.1 5.0,-1.0 3.0,-2.8" stroke-width="2.30"/>
</g>
<text transform="translate(559.23,957.20) scale(0.9304,1)" font-family='"Liberation Sans", sans-serif' font-size="19.8" fill="#1f1f1f" stroke="#1f1f1f" stroke-width="0.28">ee</text>
<g transform="translate(50.7,246.0) rotate(-90)">
<g transform="translate(0.00,0.00) scale(1.0000)" fill="none" stroke="#1f1f1f" stroke-linejoin="miter" stroke-miterlimit="3">
<path d="M15.8,-13.1 L5.5,-13.1 C3.1,-13.1 1.8,-11.6 0.7,-9.5" stroke-width="2.50"/>
<path d="M8.7,-13.1 L6.1,0.1" stroke-width="2.40"/>
</g>
<text transform="translate(14.83,4.20) scale(0.8992,1)" font-family='"Liberation Sans", sans-serif' font-size="21.3" fill="#1f1f1f">E</text>
<circle cx="44.60" cy="-8.00" r="1.85" fill="#1f1f1f"/>
<g transform="translate(59.90,0.00) scale(1.0000)" fill="none" stroke="#1f1f1f" stroke-linejoin="miter" stroke-miterlimit="3">
<path d="M0.8,-8.8 C1.9,-11.8 4.2,-13.9 7.2,-13.9 C11.2,-13.9 13.0,-8.3 13.1,-2.4 L10.9,5.0" stroke-width="2.50"/>
<path d="M13.0,-2.6 L17.0,-13.9" stroke-width="2.10"/>
</g>
<text transform="translate(77.62,3.00) scale(0.9469,1)" font-family='"Liberation Sans", sans-serif' font-size="19.5" fill="#1f1f1f" stroke="#1f1f1f" stroke-width="0.28">ep</text>
</g>
<g transform="translate(25.0,808.5) rotate(-90)">
<g transform="translate(0.00,0.00) scale(1.0000)" fill="none" stroke="#1f1f1f" stroke-linejoin="miter" stroke-miterlimit="3">
<path d="M15.8,-13.1 L5.5,-13.1 C3.1,-13.1 1.8,-11.6 0.7,-9.5" stroke-width="2.50"/>
<path d="M8.7,-13.1 L6.1,0.1" stroke-width="2.40"/>
</g>
<text transform="translate(14.94,4.10) scale(0.9490,1)" font-family='"Liberation Sans", sans-serif' font-size="21.3" fill="#1f1f1f">H</text>
<circle cx="46.30" cy="-8.50" r="1.85" fill="#1f1f1f"/>
<g transform="translate(60.00,0.00) scale(1.0000)" fill="none" stroke="#1f1f1f" stroke-linejoin="miter" stroke-miterlimit="3">
<path d="M1.3,4.6 L3.9,-10.0 C4.7,-14.5 6.4,-18.3 9.7,-19.8 C12.5,-21.0 15.6,-20.9 17.2,-19.4 C19.4,-17.3 18.3,-13.6 14.2,-13.3 L8.3,-13.3" stroke-width="2.30"/>
<path d="M14.2,-13.3 C17.6,-12.8 18.9,-9.5 18.5,-6.1 C18.0,-2.0 14.5,-0.1 11.0,-0.1 C8.0,-0.1 5.0,-1.0 3.0,-2.8" stroke-width="2.30"/>
</g>
<text transform="translate(79.73,3.70) scale(0.9397,1)" font-family='"Liberation Sans", sans-serif' font-size="19.5" fill="#1f1f1f" stroke="#1f1f1f" stroke-width="0.28">ee</text>
<text transform="translate(102.94,0.00) scale(1.0025,1)" font-family='"Liberation Sans", sans-serif' font-size="30" fill="#1f1f1f" stroke="#fff" stroke-width="0.15">(</text>
<g transform="translate(116.30,0.00) scale(1.0000)" fill="none" stroke="#1f1f1f" stroke-linejoin="miter" stroke-miterlimit="3">
<path d="M1.5,0.0 L6.2,-20.9" stroke-width="2.30"/>
<path d="M4.0,-9.0 C5.8,-12.8 8.6,-14.6 10.8,-14.4 C13.0,-14.2 13.8,-12.5 13.4,-10.4 L11.1,0.0" stroke-width="2.30"/>
</g>
<g transform="translate(132.10,0.00) scale(1.0000)" fill="none" stroke="#1f1f1f" stroke-linejoin="miter" stroke-miterlimit="3">
<path d="M4.7,-14.6 L2.1,-1.0 C7.6,-2.7 13.0,-6.6 15.4,-14.6" stroke-width="2.25"/>
</g>
<text transform="translate(150.85,0.00) scale(0.9774,1)" font-family='"Liberation Sans", sans-serif' font-size="30" fill="#1f1f1f" stroke="#fff" stroke-width="0.15">)</text>
<text transform="translate(160.04,-10.80) scale(1.1740,1)" font-family='"Liberation Sans", sans-serif' font-size="19.8" fill="#1f1f1f" stroke="#1f1f1f" stroke-width="0.28">2</text>
<text transform="translate(197.23,0.00) scale(0.8804,1)" font-family='"Liberation Sans", sans-serif' font-size="29" fill="#1f1f1f" stroke="#fff" stroke-width="0.14">e</text>
<text transform="translate(211.68,0.00) scale(0.9950,1)" font-family='"Liberation Sans", sans-serif' font-size="30.5" fill="#1f1f1f" stroke="#fff" stroke-width="0.15">V</text>
<text transform="translate(232.67,-10.10) scale(1.0411,1)" font-family='"Liberation Sans", sans-serif' font-size="19.8" fill="#1f1f1f" stroke="#1f1f1f" stroke-width="0.28">2</text>
</g>
</svg></body></html>
